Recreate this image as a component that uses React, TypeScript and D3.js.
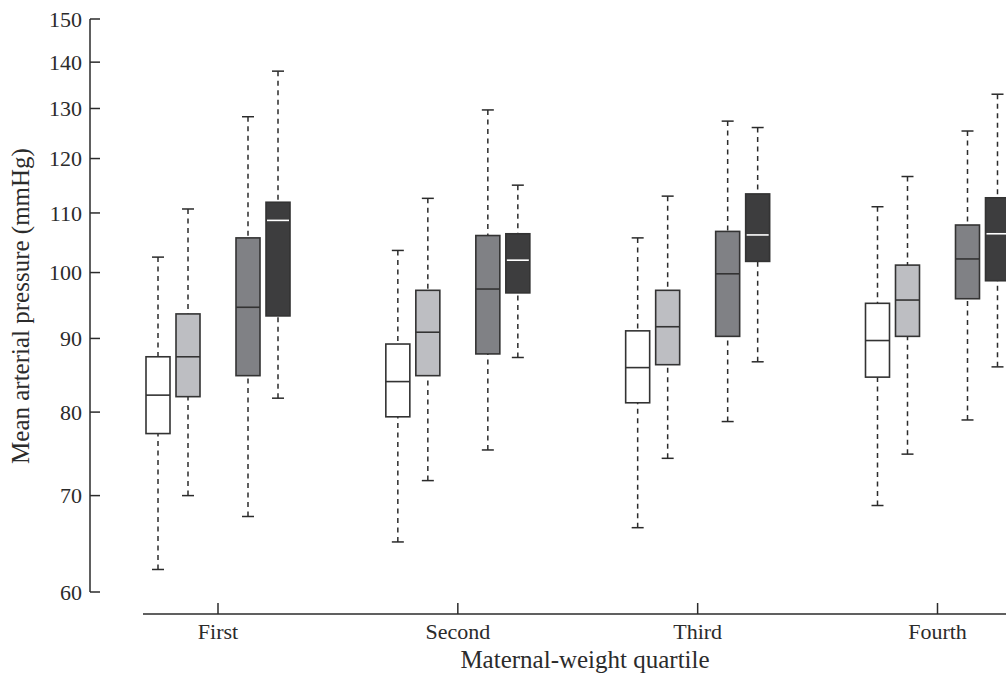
import React from "react";
import * as d3 from "d3";

// ---- Data (five-number summaries: [low whisker, Q1, median, Q3, high whisker]) ----
const categories = ["First", "Second", "Third", "Fourth"];
const seriesKeys = ["A", "B", "C", "D"];

const seriesA = [
  [62.2, 77.3, 82.2, 87.4, 102.5],
  [65.0, 79.4, 84.0, 89.2, 103.6],
  [66.5, 81.2, 85.9, 91.1, 105.7],
  [68.9, 84.6, 89.7, 95.2, 111.1],
];
const seriesB = [
  [70.0, 82.0, 87.4, 93.6, 110.7],
  [71.7, 84.8, 90.9, 97.2, 112.6],
  [74.3, 86.3, 91.7, 97.2, 113.0],
  [74.8, 90.3, 95.7, 101.2, 116.6],
];
const seriesC = [
  [67.7, 84.8, 94.6, 105.7, 128.3],
  [75.3, 87.8, 97.4, 106.1, 129.7],
  [78.8, 90.3, 99.8, 106.8, 127.4],
  [79.0, 95.9, 102.2, 107.9, 125.4],
];
const seriesD = [
  [81.8, 93.3, 108.7, 111.9, 138.0],
  [87.3, 96.8, 102.0, 106.4, 115.0],
  [86.7, 101.8, 106.2, 113.4, 126.1],
  [86.0, 98.7, 106.4, 112.7, 133.0],
];
const yTicks = [60, 70, 80, 90, 100, 110, 120, 130, 140, 150];

// ---- Styles ----
const W = 1006;
const H = 677;
const fills = ["#ffffff", "#bdbec2", "#808185", "#3d3d3e"];
const medianColors = ["#333333", "#333333", "#333333", "#ffffff"];
const ink = "#2b2b2b";
const font = "'Liberation Serif', 'Times New Roman', serif";

export default function App() {
  const allSeries = [seriesA, seriesB, seriesC, seriesD];
  const y = d3.scaleLog().domain([60, 150]).range([592, 19]);
  const x = d3.scalePoint<string>().domain(categories).range([218, 937.5]);
  const offset = d3
    .scalePoint<string>()
    .domain(["A", "B", "_gap", "C", "D"])
    .range([-60, 60]);
  const boxW = 24;
  const capW = 12;
  const axisX = 90;
  const axisY = 614;

  return (
    <svg
      width={W}
      height={H}
      style={{ position: "absolute", left: 0, top: 0, background: "#fff" }}
      fontFamily={font}
    >
      {/* Y axis */}
      <line x1={axisX} x2={axisX} y1={y(150)} y2={y(60)} stroke={ink} strokeWidth={1.5} />
      {yTicks.map((t) => (
        <g key={t}>
          <line x1={axisX} x2={axisX + 10} y1={y(t)} y2={y(t)} stroke={ink} strokeWidth={1.5} />
          <text
            x={82}
            y={y(t)}
            dy="0.35em"
            textAnchor="end"
            fontSize={22}
            fill={ink}
          >
            {t}
          </text>
        </g>
      ))}
      <text
        transform={`translate(29, 306) rotate(-90)`}
        textAnchor="middle"
        fontSize={25}
        fill={ink}
      >
        Mean arterial pressure (mmHg)
      </text>

      {/* X axis */}
      <line x1={143} x2={W} y1={axisY} y2={axisY} stroke={ink} strokeWidth={1.5} />
      {categories.map((c) => (
        <g key={c}>
          <line x1={x(c)!} x2={x(c)!} y1={axisY} y2={axisY - 11} stroke={ink} strokeWidth={1.5} />
          <text x={x(c)!} y={639} textAnchor="middle" fontSize={22} fill={ink}>
            {c}
          </text>
        </g>
      ))}
      <text x={585} y={668} textAnchor="middle" fontSize={25} fill={ink}>
        Maternal-weight quartile
      </text>

      {/* Boxes */}
      {categories.map((c, ci) =>
        allSeries.map((s, si) => {
          const [lo, q1, med, q3, hi] = s[ci];
          const cx = x(c)! + offset(seriesKeys[si])!;
          return (
            <g key={`${c}-${si}`}>
              <line
                x1={cx}
                x2={cx}
                y1={y(hi)}
                y2={y(q3)}
                stroke={ink}
                strokeWidth={1.5}
                strokeDasharray="5,4.5"
              />
              <line
                x1={cx}
                x2={cx}
                y1={y(lo)}
                y2={y(q1)}
                stroke={ink}
                strokeWidth={1.5}
                strokeDasharray="5,4.5"
              />
              <line x1={cx - capW / 2} x2={cx + capW / 2} y1={y(hi)} y2={y(hi)} stroke={ink} strokeWidth={1.5} />
              <line x1={cx - capW / 2} x2={cx + capW / 2} y1={y(lo)} y2={y(lo)} stroke={ink} strokeWidth={1.5} />
              <rect
                x={cx - boxW / 2}
                y={y(q3)}
                width={boxW}
                height={y(q1) - y(q3)}
                fill={fills[si]}
                stroke="#333"
                strokeWidth={1.6}
              />
              <line
                x1={cx - boxW / 2 + (si === 3 ? 1 : 0)}
                x2={cx + boxW / 2 - (si === 3 ? 1 : 0)}
                y1={y(med)}
                y2={y(med)}
                stroke={medianColors[si]}
                strokeWidth={1.6}
              />
            </g>
          );
        })
      )}
    </svg>
  );
}
